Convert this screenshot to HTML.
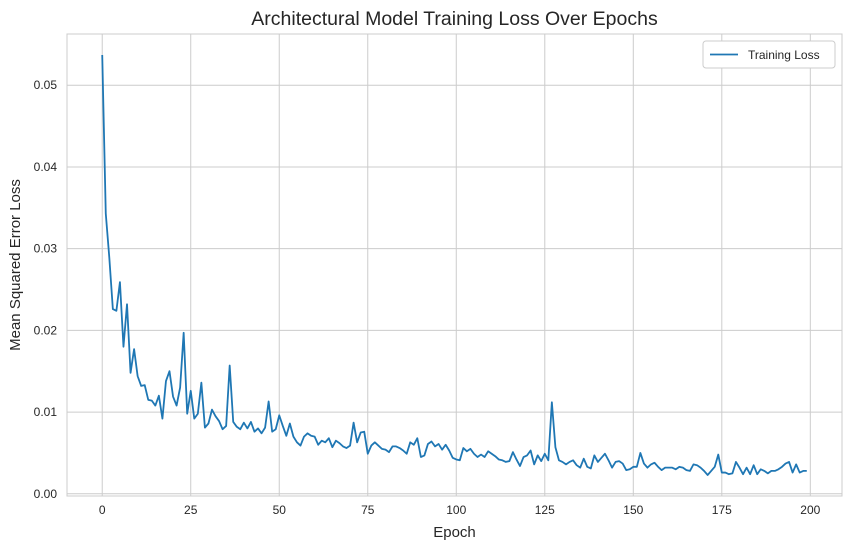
<!DOCTYPE html>
<html><head><meta charset="utf-8"><style>
body{margin:0;background:#fff;}
svg{display:block;font-family:"Liberation Sans",Arial,sans-serif;}
</style></head><body>
<svg id="chart" width="852" height="550" viewBox="0 0 852 550"></svg>
<script>
const epochs = Array.from({length:200},(_, i)=>i);
const lossValues = [
0.0537,0.0343,0.0289,0.0226,0.0224,0.0259,0.0180,0.0232,0.0148,0.0177,
0.0144,0.0132,0.0133,0.0115,0.0114,0.0108,0.0120,0.0092,0.0138,0.0150,
0.0119,0.0108,0.0130,0.0197,0.0098,0.0126,0.0092,0.0098,0.0136,0.0081,
0.0086,0.0103,0.0095,0.0089,0.0079,0.0083,0.0157,0.0088,0.0082,0.0079,
0.0087,0.0080,0.0088,0.0076,0.0080,0.0074,0.0081,0.0113,0.0076,0.0079,
0.0096,0.0083,0.0071,0.0086,0.0070,0.0063,0.0059,0.0070,0.0074,0.0071,
0.0070,0.0060,0.0065,0.0063,0.0068,0.0057,0.0065,0.0062,0.0058,0.0056,
0.0059,0.0087,0.0063,0.0075,0.0076,0.0049,0.0059,0.0063,0.0059,0.0055,
0.0054,0.0051,0.0058,0.0058,0.0056,0.0053,0.0049,0.0063,0.0060,0.0068,
0.0045,0.0047,0.0061,0.0064,0.0058,0.0061,0.0054,0.0060,0.0053,0.0044,
0.0042,0.0041,0.0056,0.0052,0.0055,0.0049,0.0045,0.0048,0.0045,0.0052,
0.0049,0.0046,0.0042,0.0041,0.0039,0.0040,0.0051,0.0042,0.0034,0.0045,
0.0047,0.0053,0.0036,0.0047,0.0040,0.0049,0.0041,0.0112,0.0057,0.0041,
0.0039,0.0036,0.0039,0.0041,0.0035,0.0032,0.0043,0.0033,0.0031,0.0047,
0.0039,0.0044,0.0049,0.0041,0.0032,0.0039,0.0040,0.0037,0.0029,0.0030,
0.0033,0.0033,0.0050,0.0037,0.0032,0.0036,0.0038,0.0033,0.0029,0.0032,
0.0032,0.0032,0.0030,0.0033,0.0032,0.0029,0.0028,0.0036,0.0035,0.0032,
0.0028,0.0023,0.0028,0.0033,0.0048,0.0026,0.0026,0.0024,0.0025,0.0039,
0.0032,0.0024,0.0032,0.0024,0.0035,0.0024,0.0030,0.0028,0.0025,0.0028,
0.0028,0.0030,0.0033,0.0037,0.0039,0.0026,0.0036,0.0026,0.0028,0.0028];
const xTicks = [0,25,50,75,100,125,150,175,200];
const yTicks = [0.00,0.01,0.02,0.03,0.04,0.05];
const yTickLabels = ["0.00","0.01","0.02","0.03","0.04","0.05"];

const NS="http://www.w3.org/2000/svg";
const svg=document.getElementById('chart');
const L=67,R=842,T=34,B=496;
const xmin=-9.95,xmax=208.95;
const lmin=Math.min(...lossValues),lmax=Math.max(...lossValues);
const pad=(lmax-lmin)*0.05;
const ymin=lmin-pad,ymax=lmax+pad;
const xs=v=>L+(v-xmin)/(xmax-xmin)*(R-L);
const ys=v=>B-(v-ymin)/(ymax-ymin)*(B-T);
function mk(tag,attrs,text){const e=document.createElementNS(NS,tag);for(const k in attrs)e.setAttribute(k,attrs[k]);if(text!==undefined)e.textContent=text;svg.appendChild(e);return e;}

// grid
xTicks.forEach(t=>{
  const g=mk('line',{x1:xs(t),x2:xs(t),y1:T,y2:B,stroke:'#cccccc','stroke-width':1});
  
  
  const lb=mk('text',{x:xs(t),y:B+18,'text-anchor':'middle','font-size':12,fill:'#262626'},String(t));
  
  
});
yTicks.forEach((t,i)=>{
  const g=mk('line',{x1:L,x2:R,y1:ys(t),y2:ys(t),stroke:'#cccccc','stroke-width':1});
  
  
  const lb=mk('text',{x:L-10,y:ys(t)+4,'text-anchor':'end','font-size':12,fill:'#262626'},yTickLabels[i]);
  
  
});
const frame=mk('rect',{x:L,y:T,width:R-L,height:B-T,fill:'none',stroke:'#cccccc','stroke-width':1});



// line
const pts=lossValues.map((v,i)=>xs(epochs[i]).toFixed(2)+','+ys(v).toFixed(2)).join(' ');
const line=mk('polyline',{points:pts,fill:'none',stroke:'#1f77b4','stroke-width':1.8,'stroke-linejoin':'round'});



// titles
const title=mk('text',{x:(L+R)/2,y:25,'text-anchor':'middle','font-size':19.5,fill:'#262626'},'Architectural Model Training Loss Over Epochs');


const xt=mk('text',{x:(L+R)/2,y:537,'text-anchor':'middle','font-size':15,fill:'#262626'},'Epoch');


const yt=mk('text',{x:0,y:0,'text-anchor':'middle','font-size':15,fill:'#262626',transform:'translate(20,'+((T+B)/2)+') rotate(-90)'},'Mean Squared Error Loss');



// legend
const lg=mk('rect',{x:703,y:41,width:132,height:27,rx:3,fill:'#fff',stroke:'#cccccc','stroke-width':1});


const ll=mk('line',{x1:710,x2:738,y1:54.5,y2:54.5,stroke:'#1f77b4','stroke-width':1.8});


const lt=mk('text',{x:748,y:59,'font-size':12,fill:'#262626'},'Training Loss');


</script>
</body></html>
